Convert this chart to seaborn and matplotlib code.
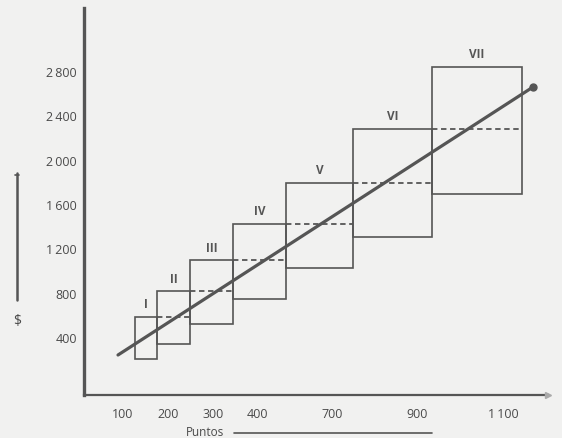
import matplotlib
matplotlib.use("Agg")
import matplotlib.pyplot as plt
import seaborn as sns
import pandas as pd

# ---- data (x in schematic axis position units, y in $) ----
niveles = ['I', 'II', 'III', 'IV', 'V', 'VI', 'VII']
pos_izq = [51, 73, 106, 149, 202, 269, 348]
pos_der = [73, 106, 149, 202, 269, 348, 438]
salario_min = [210, 350, 530, 750, 1030, 1310, 1700]
salario_max = [590, 820, 1100, 1430, 1800, 2290, 2850]

linea_x = [34, 449]
linea_y = [247, 2665]

xtick_pos = [39, 84, 129, 173, 248, 333, 419]
xtick_lab = ['100', '200', '300', '400', '700', '900', '1\u2009100']
ytick_val = [400, 800, 1200, 1600, 2000, 2400, 2800]
ytick_lab = ['400', '800', '1\u2009200', '1\u2009600', '2\u2009000', '2\u2009400', '2\u2009800']

sns.set_theme(style="white")
plt.rcParams['font.family'] = ['Open Sans', 'DejaVu Sans']

BG = '#f1f1f0'
INK = '#555555'

fig = plt.figure(figsize=(5.62, 4.38), dpi=100, facecolor=BG)
ax = fig.add_axes([84/562, 1-395/438, (548-84)/562, (395-8)/438])
ax.set_facecolor(BG)

df = pd.DataFrame({'nivel': niveles, 'izq': pos_izq, 'der': pos_der,
                   'min': salario_min, 'max': salario_max})
df['ancho'] = df['der'] - df['izq']
df['alto'] = df['max'] - df['min']

ax.bar(df['izq'], df['alto'], width=df['ancho'], bottom=df['min'], align='edge',
       fill=False, edgecolor=INK, linewidth=1.2, zorder=2)

# dashed: previous band maximum carried across the next band
for i in range(1, len(df)):
    ax.plot([df['izq'][i], df['der'][i]], [df['max'][i-1], df['max'][i-1]],
            linestyle=(0, (3, 2)), color=INK, linewidth=1.3, zorder=2)

for _, r in df.iterrows():
    ax.text((r['izq'] + r['der']) / 2, r['max'] + 50, r['nivel'], ha='center', va='bottom',
            fontsize=8.5, fontweight='bold', color=INK)

lin = pd.DataFrame({'x': linea_x, 'y': linea_y})
sns.lineplot(data=lin, x='x', y='y', ax=ax, color=INK, linewidth=2.3, zorder=3)
ax.plot(linea_x[-1], linea_y[-1], 'o', color=INK, markersize=5, zorder=3)

ax.set_xlim(0, 464)
ax.set_ylim(-114, 3378)
ax.set_xticks(xtick_pos)
ax.set_xticklabels(xtick_lab)
ax.set_yticks(ytick_val)
ax.set_yticklabels(ytick_lab)
ax.tick_params(axis='both', length=0, labelsize=9, labelcolor='#4a4a4a')
ax.tick_params(axis='x', pad=9)
ax.tick_params(axis='y', pad=5)
ax.set_xlabel('')
ax.set_ylabel('')
for s in ['top', 'right']:
    ax.spines[s].set_visible(False)
ax.spines['left'].set_color(INK)
ax.spines['left'].set_linewidth(2.4)
ax.spines['bottom'].set_color(INK)
ax.spines['bottom'].set_linewidth(1.6)

# y-axis label with arrow line
fig.text(17/562, 1-322/438, '$', ha='center', va='center', fontsize=10, color='#4a4a4a')
fig.add_artist(plt.Line2D([17/562, 17/562], [1-300/438, 1-173/438], color=INK, linewidth=1.8))
fig.add_artist(plt.Line2D([15/562, 19/562], [1-175/438, 1-175/438], color=INK, linewidth=1.2))

# x-axis label with arrow line
fig.text(205/562, 1-432/438, 'Puntos', ha='center', va='center', fontsize=8.5, color='#4a4a4a')
fig.add_artist(plt.Line2D([234/562, 432/562], [1-433/438, 1-433/438], color=INK, linewidth=1.2))
fig.add_artist(plt.Line2D([548/562], [1-395/438], marker='>', color='#aaaaaa', markersize=4))

fig.savefig('out.png', dpi=100, facecolor=BG)
